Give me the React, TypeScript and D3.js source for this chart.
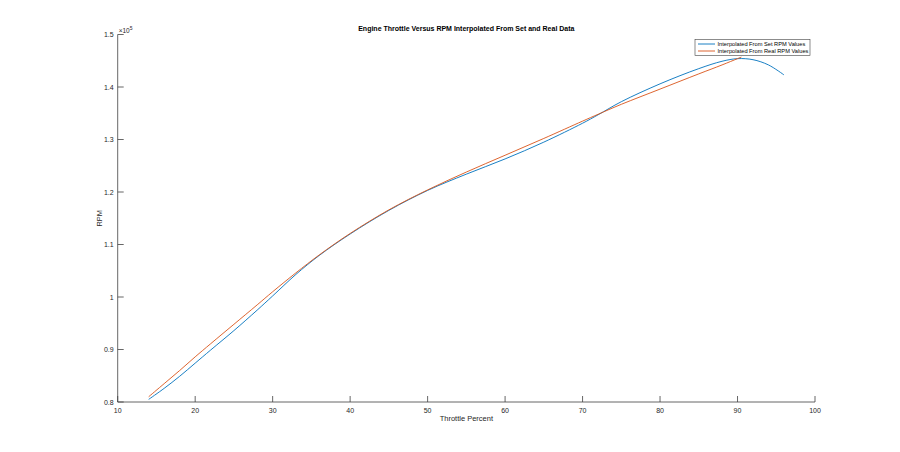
import * as d3 from "d3";

// Throttle percent samples for each interpolated curve
const setThrottle = [14, 16, 18, 20, 22, 25, 28, 30, 33, 36, 40, 45, 50, 55, 60, 65, 70, 72, 75, 80, 85, 88, 90, 92, 94, 96];
const setRpm = [80500, 82600, 84900, 87400, 89900, 93600, 97500, 100200, 104300, 107900, 112000, 116500, 120300, 123400, 126300, 129500, 133100, 134700, 137200, 140600, 143500, 144900, 145400, 145200, 144200, 142300];

const realThrottle = [14, 16, 18, 20, 22, 25, 28, 30, 33, 36, 40, 45, 50, 55, 60, 65, 70, 72, 75, 80, 85, 88, 90, 90.5];
const realRpm = [81000, 83500, 86000, 88600, 91100, 94800, 98500, 101000, 104600, 108000, 112100, 116600, 120400, 123800, 127000, 130200, 133500, 134800, 136700, 139600, 142500, 144200, 145400, 145700];

const xTicks = [10, 20, 30, 40, 50, 60, 70, 80, 90, 100];
const yTicks = [80000, 90000, 100000, 110000, 120000, 130000, 140000, 150000];

const seriesNames = ["Interpolated From Set RPM Values", "Interpolated From Real RPM Values"];
const seriesColors = ["#0072BD", "#D95319"];

const W = 900;
const H = 452;
const font = "'Liberation Sans', Arial, sans-serif";

const App = () => {
    const x = d3.scaleLinear().domain([10, 100]).range([117.7, 815]);
    const y = d3.scaleLinear().domain([80000, 150000]).range([402, 34.5]);

    const line = d3
        .line<[number, number]>()
        .x((d) => x(d[0]))
        .y((d) => y(d[1]))
        .curve(d3.curveCatmullRom.alpha(0.5));

    const setPts = setThrottle.map((t, i) => [t, setRpm[i]] as [number, number]);
    const realPts = realThrottle.map((t, i) => [t, realRpm[i]] as [number, number]);

    const axisColor = "#404040";
    const left = x(10);
    const bottom = y(80000);
    const cx = (x(10) + x(100)) / 2;
    const cy = (y(80000) + y(150000)) / 2;

    return (
        <svg width={W} height={H} style={{ position: "absolute", left: 0, top: 0, background: "#fff" }} fontFamily={font}>
            <rect width={W} height={H} fill="#fff" />

            {/* curves */}
            <path d={line(setPts)!} fill="none" stroke={seriesColors[0]} strokeWidth={0.9} />
            <path d={line(realPts)!} fill="none" stroke={seriesColors[1]} strokeWidth={0.9} />

            {/* axes */}
            <line x1={left} x2={x(100)} y1={bottom} y2={bottom} stroke={axisColor} strokeWidth={0.8} />
            <line x1={left} x2={left} y1={bottom} y2={y(150000)} stroke={axisColor} strokeWidth={0.8} />

            {xTicks.map((t) => (
                <g key={"x" + t}>
                    <line x1={x(t)} x2={x(t)} y1={bottom} y2={bottom - 6} stroke={axisColor} strokeWidth={0.8} />
                    <text x={x(t)} y={bottom + 11} textAnchor="middle" fontSize={7} fill="#262626">
                        {t}
                    </text>
                </g>
            ))}
            {yTicks.map((v) => (
                <g key={"y" + v}>
                    <line x1={left} x2={left + 6} y1={y(v)} y2={y(v)} stroke={axisColor} strokeWidth={0.8} />
                    <text x={left - 4} y={y(v) + 2.5} textAnchor="end" fontSize={7} fill="#262626">
                        {d3.format("~g")(v / 1e5)}
                    </text>
                </g>
            ))}

            {/* exponent label */}
            <text x={left + 1} y={y(150000) - 2} fontSize={6.5} fill="#262626">
                ×10
                <tspan dy={-3} fontSize={5}>5</tspan>
            </text>

            {/* title and labels */}
            <text x={cx} y={31} textAnchor="middle" fontSize={7} fontWeight="bold" fill="#000">
                Engine Throttle Versus RPM Interpolated From Set and Real Data
            </text>
            <text x={cx} y={421} textAnchor="middle" fontSize={7.5} fill="#262626">
                Throttle Percent
            </text>
            <text transform={`translate(${102},${cy}) rotate(-90)`} textAnchor="middle" fontSize={7.5} fill="#262626">
                RPM
            </text>

            {/* legend */}
            <g transform="translate(695,39.5)">
                <rect width={115} height={16} fill="#fff" stroke={axisColor} strokeWidth={0.6} />
                {seriesNames.map((name, i) => (
                    <g key={name} transform={`translate(0,${4.5 + i * 7})`}>
                        <line x1={3} x2={20} y1={0} y2={0} stroke={seriesColors[i]} strokeWidth={0.9} />
                        <text x={22.5} y={2} fontSize={5.7} fill="#000">
                            {name}
                        </text>
                    </g>
                ))}
            </g>
        </svg>
    );
};

export default App;
